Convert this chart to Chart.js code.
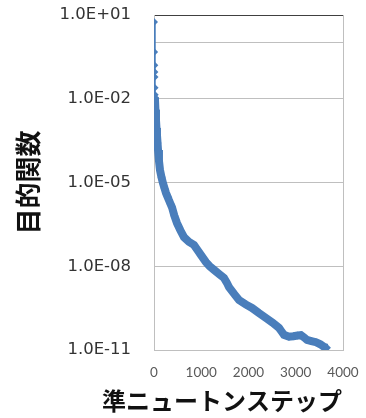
<!DOCTYPE html>
<html>
<head>
<meta charset="utf-8">
<script src="https://cdn.jsdelivr.net/npm/chart.js@4/dist/chart.umd.min.js"></script>
<style>
	html, body { margin: 0; padding: 0; background: #fff; }
	#wrap { width: 366px; height: 418px; }
</style>
</head>
<body>
<div id="wrap"><canvas id="chart" width="366" height="418"></canvas></div>
<script>
// quasi-Newton step vs objective value
var steps = [0, 3, 6, 8, 10, 12, 15, 18, 21, 30, 42, 52, 63, 75, 85, 105, 127, 160, 190, 225, 254, 290, 317, 350, 381, 430, 487, 560, 635, 740, 846, 920, 995, 1100, 1180, 1270, 1380, 1481, 1540, 1587, 1700, 1799, 1940, 2074, 2220, 2370, 2510, 2645, 2700, 2751, 2857, 2950, 3040, 3111, 3180, 3238, 3330, 3428, 3520, 3597, 3660];
var objective = [5.6, 0.47, 0.16, 0.091, 0.06, 0.025, 0.014, 0.011, 9.1e-3, 4.0e-3, 1.74e-3, 9.0e-4, 5.0e-4, 2.6e-4, 1.45e-4, 6.0e-5, 2.8e-5, 1.5e-5, 9.5e-6, 6.0e-6, 4.2e-6, 3.0e-6, 2.3e-6, 1.7e-6, 1.3e-6, 6.5e-7, 3.5e-7, 1.9e-7, 1.1e-7, 7.5e-8, 5.8e-8, 3.8e-8, 2.5e-8, 1.4e-8, 1.0e-8, 7.4e-9, 5.2e-9, 3.8e-9, 2.6e-9, 1.8e-9, 1.0e-9, 6.2e-10, 4.3e-10, 3.2e-10, 2.1e-10, 1.4e-10, 9.5e-11, 6.2e-11, 4.6e-11, 3.5e-11, 3.0e-11, 3.1e-11, 3.3e-11, 3.4e-11, 2.8e-11, 2.3e-11, 2.1e-11, 1.9e-11, 1.6e-11, 1.3e-11, 1.2e-11];
var yTicks = [1e-11, 1e-8, 1e-5, 1e-2, 1, 10];
var xTicks = [0, 1000, 2000, 3000, 4000];
var xTitle = "準ニュートンステップ";
var yTitle = "目的関数";

var BLUE = "#4a7ebb";
var NONE = "rgba(0,0,0,0)";

function sci_label(v){
	// Excel style 1.0E+01
	var e = Math.round(Math.log10(v));
	var s = e < 0 ? "-" : "+";
	var a = Math.abs(e);
	return "1.0E" + s + (a < 10 ? "0" + a : "" + a);
}

var points = [];
for(var i = 0; i < steps.length; i++){
	points.push({x: steps[i], y: objective[i]});
}

var xTitlePlugin = {
	id: "xTitle",
	afterDraw: function(chart){
		var ctx = chart.ctx;
		ctx.save();
		ctx.font = "bold 24px 'Noto Sans CJK JP'";
		ctx.fillStyle = "#111";
		ctx.textAlign = "center";
		ctx.textBaseline = "middle";
		ctx.fillText(xTitle, 222, 401);
		ctx.restore();
	}
};

var ctx = document.getElementById("chart").getContext("2d");
var chart = new Chart(ctx, {
	type: "line",
	data: {
		datasets: [{
			data: points,
			borderColor: BLUE,
			backgroundColor: BLUE,
			borderWidth: 8,
			pointStyle: "rectRot",
			pointRadius: 4,
			pointBorderWidth: 0,
			fill: false,
			tension: 0,
			segment: {
				borderWidth: function(c){ return c.p1.parsed.y > 0.01 ? 2.5 : 8; }
			}
		}]
	},
	plugins: [xTitlePlugin],
	options: {
		responsive: false,
		animation: false,
		layout: { padding: { top: 15, right: 23, left: 0, bottom: 0 } },
		plugins: { legend: { display: false }, tooltip: { enabled: false } },
		scales: {
			x: {
				type: "linear",
				min: 0,
				max: 4000,
				afterBuildTicks: function(scale){
					scale.ticks = xTicks.map(function(v){ return {value: v}; });
				},
				afterFit: function(scale){ scale.height = 68; },
				grid: {
					drawTicks: true,
					tickLength: 15,
					tickColor: NONE,
					color: function(c){ return c.tick && c.tick.value === 4000 ? "#bfbfbf" : NONE; }
				},
				border: { color: "#bfbfbf" },
				ticks: {
					padding: 0,
					maxRotation: 0,
					color: "#595959",
					font: { family: "Lato", size: 13.5 },
					callback: function(v){ return "" + v; }
				}
			},
			y: {
				type: "logarithmic",
				min: 1e-11,
				max: 10,
				afterBuildTicks: function(scale){
					scale.ticks = yTicks.map(function(v){ return {value: v}; });
				},
				afterFit: function(scale){ scale.width = 154; },
				grid: {
					drawTicks: true,
					tickLength: 23,
					tickColor: NONE,
					color: function(c){ return c.tick && c.tick.value === 10 ? "#404040" : "#bfbfbf"; }
				},
				border: { color: "#bfbfbf" },
				ticks: {
					padding: 0,
					color: "#333",
					font: { family: "'DejaVu Sans'", size: 16.5 },
					callback: function(v){ return v === 1 ? "" : sci_label(v); }
				},
				title: {
					display: true,
					text: yTitle,
					color: "#111",
					padding: { top: 13, bottom: 0 },
					font: { family: "'Noto Sans CJK JP'", size: 26, weight: "bold" }
				}
			}
		}
	}
});
</script>
</body>
</html>
